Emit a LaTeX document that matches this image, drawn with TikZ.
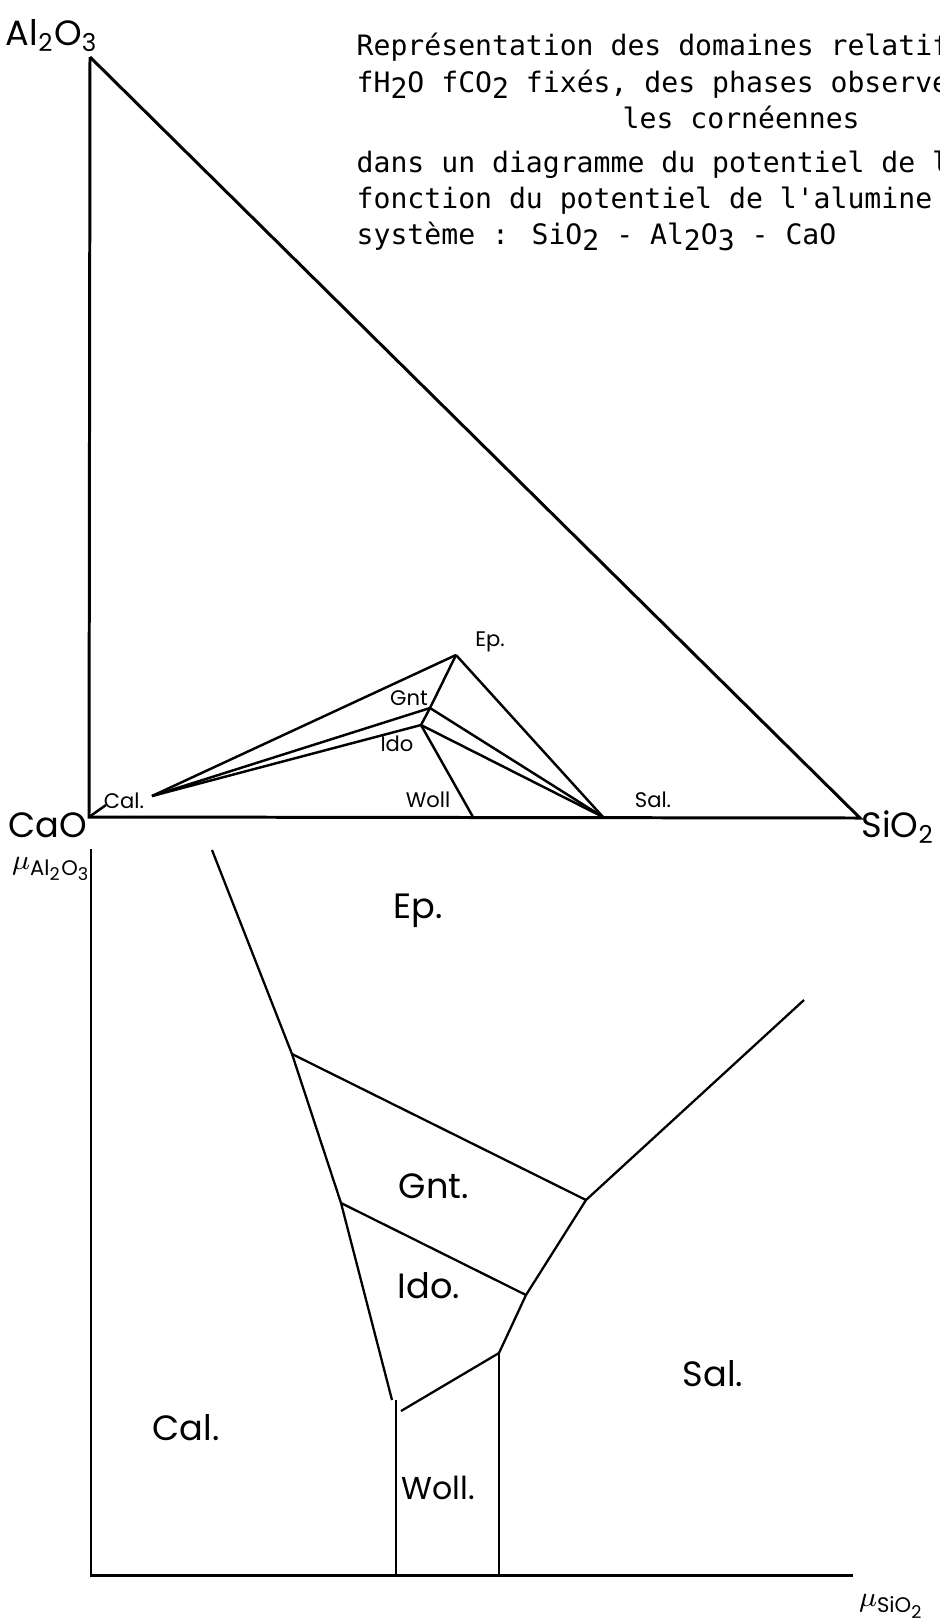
\documentclass[tikz,border=0pt]{standalone}
\usepackage{fontspec}
\setmainfont{DejaVu Sans}
\newfontfamily\typefont{DejaVu Sans Mono}
\newfontfamily\handfont{Poppins}
\usetikzlibrary{positioning}
\pgfdeclarelayer{edgelayer}
\pgfdeclarelayer{nodelayer}
\pgfsetlayers{edgelayer,nodelayer,main}
\newcommand{\lowd}[1]{\raisebox{-0.4ex}{#1}}
\tikzstyle{none}=[inner sep=0mm]
\tikzstyle{caption}=[inner sep=0mm,anchor=base west,font=\typefont\fontsize{8}{10}\selectfont]
\tikzstyle{corner}=[inner sep=0mm,font=\handfont\fontsize{10}{12}\selectfont]
\tikzstyle{phase}=[inner sep=0mm,font=\handfont\fontsize{6}{7}\selectfont]
\tikzstyle{field}=[inner sep=0mm,font=\handfont\fontsize{10}{12}\selectfont]
\tikzstyle{axis}=[inner sep=0mm,font=\handfont\fontsize{8}{10}\selectfont]
\tikzstyle{frame}=[line width=0.85pt]
\tikzstyle{tie}=[line width=0.7pt]
\tikzstyle{bound}=[line width=0.65pt]

\begin{document}
\begin{tikzpicture}[x=0.1mm,y=-0.1mm]
	\useasboundingbox (0,0) rectangle (939,1620);
	\begin{pgfonlayer}{nodelayer}
		% caption
		\node [style=caption] (cap1) at (356, 55) {Représentation des domaines relatif};
		\node [style=caption] (cap2) at (356, 92) {fH\lowd{2}O fCO\lowd{2} fixés, des phases observe};
		\node [style=caption] (cap3) at (622, 128) {les cornéennes};
		\node [style=caption] (cap4) at (356, 172) {dans un diagramme du potentiel de l};
		\node [style=caption] (cap5) at (356, 208) {fonction du potentiel de l'alumine};
		\node [style=caption] (cap6) at (356, 244) {système : SiO\lowd{2} - Al\lowd{2}O\lowd{3} - CaO};
		% triangle
		\node [style=none] (al) at (90, 57) {};
		\node [style=none] (cao) at (89, 817) {};
		\node [style=none] (sio) at (860, 818) {};
		\node [style=none] (ep) at (456, 655) {};
		\node [style=none] (gnt) at (430, 708) {};
		\node [style=none] (ido) at (421, 725) {};
		\node [style=none] (cal) at (152, 796) {};
		\node [style=none] (calp) at (106, 805) {};
		\node [style=none] (woll) at (473, 817) {};
		\node [style=none] (sal) at (603, 817) {};
		\node [style=corner] (lal) at (52, 36) {Al\textsubscript{2}O\textsubscript{3}};
		\node [style=corner] (lcao) at (48, 825) {CaO};
		\node [style=corner] (lsio) at (898, 827) {SiO\textsubscript{2}};
		\node [style=phase] (lep) at (490, 642) {Ep.};
		\node [style=phase] (lgnt) at (409, 698) {Gnt};
		\node [style=phase] (lido) at (397, 744) {Ido};
		\node [style=phase] (lwoll) at (428, 800) {Woll};
		\node [style=phase] (lsal) at (653, 800) {Sal.};
		\node [style=phase] (lcal) at (124, 801) {Cal.};
		% potential diagram
		\node [style=none] (org) at (91, 1575) {};
		\node [style=none] (ytop) at (91, 849) {};
		\node [style=none] (xend) at (853, 1575) {};
		\node [style=none] (ca) at (212, 850) {};
		\node [style=none] (egc) at (292, 1054) {};
		\node [style=none] (gic) at (341, 1203) {};
		\node [style=none] (ic) at (392, 1400) {};
		\node [style=none] (egs) at (586, 1200) {};
		\node [style=none] (es) at (804, 1000) {};
		\node [style=none] (gis) at (526, 1295) {};
		\node [style=none] (iws) at (499, 1353) {};
		\node [style=none] (iw) at (401, 1411) {};
		\node [style=none] (wc) at (396, 1400) {};
		\node [style=none] (wcb) at (396, 1575) {};
		\node [style=none] (wsb) at (499, 1575) {};
		\node [style=axis] (lmua) at (52, 869) {$\mu$\textsubscript{Al\textsubscript{2}O\textsubscript{3}}};
		\node [style=axis] (lmus) at (892, 1606) {$\mu$\textsubscript{SiO\textsubscript{2}}};
		\node [style=field] (fep) at (418, 911) {Ep.};
		\node [style=field] (fgnt) at (434, 1186) {Gnt.};
		\node [style=field] (fido) at (429, 1286) {Ido.};
		\node [style=field,font=\handfont\fontsize{9}{11}\selectfont] (fwoll) at (438, 1488) {Woll.};
		\node [style=field] (fcal) at (186, 1428) {Cal.};
		\node [style=field] (fsal) at (713, 1374) {Sal.};
	\end{pgfonlayer}
	\begin{pgfonlayer}{edgelayer}
		\draw [style=frame] (al.center) to (cao.center) to (sio.center) to (al.center);
		\draw [style=tie] (cal.center) to (ep.center);
		\draw [style=tie] (cal.center) to (gnt.center);
		\draw [style=tie] (cal.center) to (ido.center);
		\draw [style=tie] (ep.center) to (gnt.center) to (ido.center);
		\draw [style=tie] (ep.center) to (sal.center);
		\draw [style=tie] (gnt.center) to (sal.center);
		\draw [style=tie] (ido.center) to (sal.center);
		\draw [style=tie] (ido.center) to (woll.center);
		\draw [style=tie] (cao.center) to (calp.center);
		\draw [style=frame] (ytop.center) to (org.center) to (xend.center);
		\draw [style=bound] (ca.center) to (egc.center) to (gic.center) to (ic.center);
		\draw [style=bound] (egc.center) to (egs.center) to (es.center);
		\draw [style=bound] (gic.center) to (gis.center);
		\draw [style=bound] (egs.center) to (gis.center) to (iws.center);
		\draw [style=bound] (iws.center) to (iw.center);
		\draw [style=bound] (wc.center) to (wcb.center);
		\draw [style=bound] (iws.center) to (wsb.center);
	\end{pgfonlayer}
\end{tikzpicture}
\end{document}
